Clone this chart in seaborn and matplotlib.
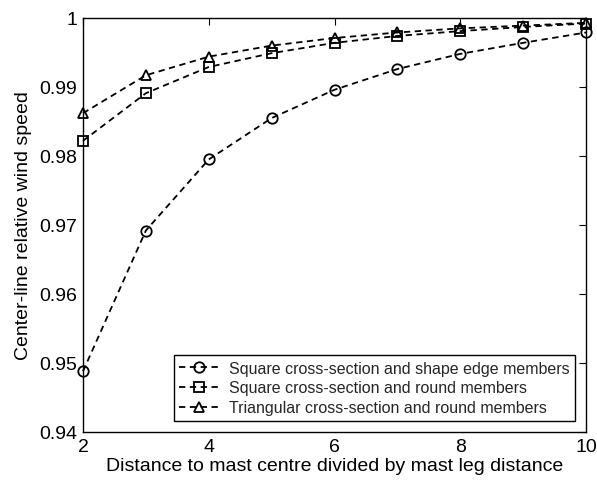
import matplotlib
matplotlib.use("Agg")
import matplotlib.pyplot as plt
import seaborn as sns
import pandas as pd

x = [2, 3, 4, 5, 6, 7, 8, 9, 10]
square_shape_edge = [0.9488, 0.9692, 0.9795, 0.9855, 0.9896, 0.9926, 0.9948, 0.9964, 0.9979]
square_round = [0.9822, 0.9891, 0.9929, 0.9949, 0.9964, 0.9974, 0.9981, 0.9987, 0.9992]
triangular_round = [0.9862, 0.9917, 0.9944, 0.9960, 0.9971, 0.9979, 0.9985, 0.9989, 0.9993]
labels = ["Square cross-section and shape edge members",
          "Square cross-section and round members",
          "Triangular cross-section and round members"]
xticks = [2, 4, 6, 8, 10]
yticks = [0.94, 0.95, 0.96, 0.97, 0.98, 0.99, 1.0]
yticklabels = ["0.94", "0.95", "0.96", "0.97", "0.98", "0.99", "1"]

sns.set_theme(style="white")
plt.rcParams['font.family'] = ['Liberation Sans', 'DejaVu Sans']

fig = plt.figure(figsize=(5.97, 4.81), dpi=100)
ax = fig.add_axes([83 / 597, 48 / 481, 503 / 597, 414 / 481])

dash = (0, (3.5, 2.5))
markers = ['o', 's', '^']
for vals, lab, m in zip([square_shape_edge, square_round, triangular_round], labels, markers):
    df = pd.DataFrame({"x": x, "y": vals})
    sns.lineplot(data=df, x="x", y="y", ax=ax, color="black",
                 marker=m, markersize=7.5, markerfacecolor="none", markeredgecolor="black",
                 markeredgewidth=1.3, linewidth=1.3, label=lab, clip_on=False, zorder=3)
    ax.lines[-1].set_linestyle(dash)

ax.set_xlim(2, 10)
ax.set_ylim(0.94, 1.0)
ax.set_xticks(xticks)
ax.set_xticklabels([str(t) for t in xticks])
ax.set_yticks(yticks)
ax.set_yticklabels(yticklabels)
ax.tick_params(direction="in", length=5, width=0.8, top=True, right=True, labelsize=14,
               colors="black", pad=4)
for s in ax.spines.values():
    s.set_color("black")
    s.set_linewidth(1.0)
ax.set_xlabel("Distance to mast centre divided by mast leg distance", fontsize=14,
              labelpad=2, color="black")
ax.set_ylabel("Center-line relative wind speed", fontsize=14, labelpad=5, color="black")

leg = ax.legend(loc="lower right", fontsize=11.5, frameon=True, fancybox=False,
                edgecolor="black", borderpad=0.35, labelspacing=0.3, handlelength=2.5,
                handletextpad=0.6, borderaxespad=0.7, framealpha=1)
leg.get_frame().set_linewidth(1.0)
for h in leg.get_lines():
    h.set_linestyle(dash)

fig.savefig("out.png", dpi=100)
